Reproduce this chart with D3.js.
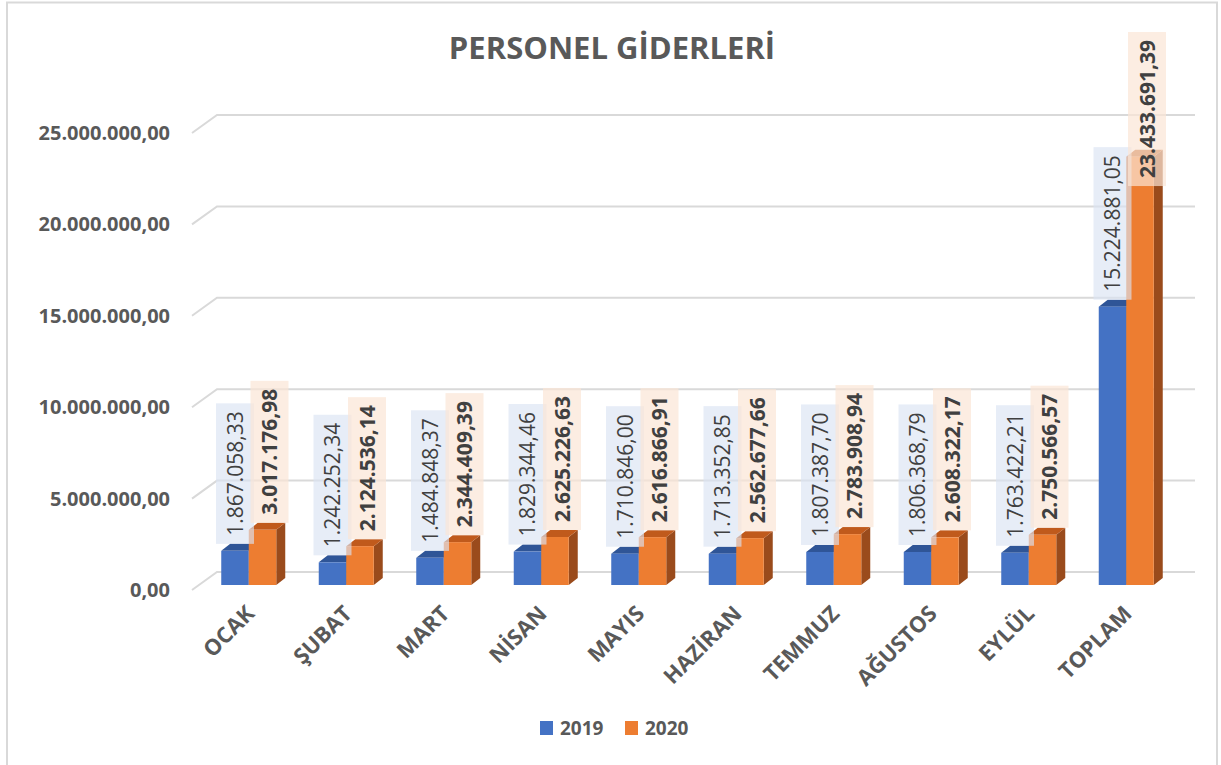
<!DOCTYPE html>
<html>
<head>
<meta charset="utf-8">
<script src="https://cdn.jsdelivr.net/npm/d3@7"></script>
<style>
  body { margin: 0; background: #fff; }
  text { font-family: "Open Sans", "Noto Sans", sans-serif; }
</style>
</head>
<body>
<div id="chart"></div>
<script>
// chart data
const months = ["OCAK", "ŞUBAT", "MART", "NİSAN", "MAYIS", "HAZİRAN", "TEMMUZ", "AĞUSTOS", "EYLÜL", "TOPLAM"];
const seriesNames = ["2019", "2020"];
const values2019 = [1867058.33, 1242252.34, 1484848.37, 1829344.46, 1710846.00, 1713352.85, 1807387.70, 1806368.79, 1763422.21, 15224881.05];
const values2020 = [3017176.98, 2124536.14, 2344409.39, 2625226.63, 2616866.91, 2562677.66, 2783908.94, 2608322.17, 2750566.57, 23433691.39];
const yTicks = [0, 5000000, 10000000, 15000000, 20000000, 25000000];

const width = 1221, height = 765;
const depthX = 9, depthY = 7;     // bar depth offset
const wallX = 25, wallY = 13;     // back wall offset from the front plane
const gray = "#595959";

const svg = d3.select("#chart").append("svg")
  .attr("width", width)
  .attr("height", height);

// outer frame
svg.append("rect")
  .attr("x", 7).attr("y", 2.5)
  .attr("width", 1210).attr("height", 770)
  .attr("fill", "none")
  .attr("stroke", "#d9d9d9")
  .attr("stroke-width", 2);

// title
svg.append("text")
  .text("PERSONEL GİDERLERİ")
  .attr("x", 612).attr("y", 59)
  .attr("text-anchor", "middle")
  .attr("font-weight", "bold")
  .attr("font-size", "31px")
  .attr("fill", gray);

// scales
const y = d3.scaleLinear().domain([0, 25000000]).range([585, 128]);
const x = d3.scaleBand().domain(months).range([200, 1175]);
const bw = 27.5;

const trFormat = d3.formatLocale({ decimal: ",", thousands: ".", grouping: [3], currency: ["", ""] }).format(",.2f");

// gridlines: left diagonal plus back wall line
const grid = svg.append("g");
yTicks.forEach(t => {
  const yb = y(t) - wallY;
  grid.append("path")
    .attr("d", `M192,${yb + 18}L217,${yb}L1195,${yb}`)
    .attr("fill", "none")
    .attr("stroke", "#d9d9d9")
    .attr("stroke-width", 2);
});

// Y axis labels
const yAxis = svg.append("g")
  .attr("transform", "translate(172,5)")
  .call(d3.axisLeft(y).tickValues(yTicks).tickFormat(trFormat).tickSize(0).tickPadding(2));
yAxis.select(".domain").remove();
yAxis.selectAll("text")
  .attr("font-family", "Open Sans")
  .attr("font-weight", "bold")
  .attr("font-size", "20px")
  .attr("fill", gray);

// X axis labels
const xAxis = svg.append("g")
  .attr("transform", "translate(0,602)")
  .call(d3.axisBottom(x).tickSize(0));
xAxis.select(".domain").remove();
xAxis.selectAll("text")
  .attr("font-family", "Open Sans")
  .attr("font-weight", "bold")
  .attr("font-size", "22px")
  .attr("fill", gray)
  .attr("text-anchor", "end")
  .attr("dy", "0.7em")
  .attr("transform", "translate(-6,0) rotate(-45)");

// 3D bars
const palette = [
  { front: "#4472c4", top: "#2f5597", side: "#2c4f8c", box: "#dae3f3", boxOp: 0.65, weight: "normal", labelShift: 0 },
  { front: "#ed7d31", top: "#c05a1c", side: "#9a4b1c", box: "#fbe5d6", boxOp: 0.7, weight: "bold", labelShift: 7 }
];
const series = [values2019, values2020];

const bars = svg.append("g");
months.forEach((m, i) => {
  const cx = x(m) + x.bandwidth() / 2;
  series.forEach((vals, s) => {
    const c = palette[s];
    const x0 = cx - bw + s * bw;
    const yt = y(vals[i]), yb = y(0);
    const g = bars.append("g");
    g.append("path")
      .attr("d", `M${x0 + bw},${yt}L${x0 + bw + depthX},${yt - depthY}L${x0 + bw + depthX},${yb - depthY}L${x0 + bw},${yb}Z`)
      .attr("fill", c.side);
    g.append("path")
      .attr("d", `M${x0},${yt}L${x0 + depthX},${yt - depthY}L${x0 + bw + depthX},${yt - depthY}L${x0 + bw},${yt}Z`)
      .attr("fill", c.top);
    g.append("rect")
      .attr("x", x0).attr("y", yt)
      .attr("width", bw).attr("height", yb - yt)
      .attr("fill", c.front);
  });
});

// data labels (rotated, in light boxes)
const labels = svg.append("g");
months.forEach((m, i) => {
  const cx = x(m) + x.bandwidth() / 2;
  series.forEach((vals, s) => {
    const c = palette[s];
    const lx = cx - bw / 2 + s * bw + c.labelShift;
    const g = labels.append("g");
    const box = g.append("rect");
    const t = g.append("text")
      .text(trFormat(vals[i]))
      .attr("font-size", "21px")
      .attr("font-weight", c.weight)
      .attr("fill", "#404040")
      .attr("text-anchor", "middle")
      .attr("dy", "0.36em");
    const len = t.node().getComputedTextLength();
    const boxH = len + 16, boxW = 38;
    let bottom = y(vals[i]) - depthY;
    let top = bottom - boxH;
    if (top < 32) { top = 32; bottom = top + boxH; }
    box.attr("x", lx - boxW / 2).attr("y", top)
      .attr("width", boxW).attr("height", boxH)
      .attr("fill", c.box).attr("fill-opacity", c.boxOp);
    t.attr("transform", `translate(${lx},${(top + bottom) / 2}) rotate(-90)`);
  });
});

// legend
const legend = svg.append("g").attr("transform", "translate(540,721)");
seriesNames.forEach((name, i) => {
  const lg = legend.append("g").attr("transform", `translate(${i * 85},0)`);
  lg.append("rect").attr("width", 13).attr("height", 14).attr("fill", palette[i].front);
  lg.append("text")
    .text(name)
    .attr("x", 20).attr("y", 7)
    .attr("dy", "0.36em")
    .attr("font-weight", "bold")
    .attr("font-size", "19px")
    .attr("fill", gray);
});
</script>
</body>
</html>
